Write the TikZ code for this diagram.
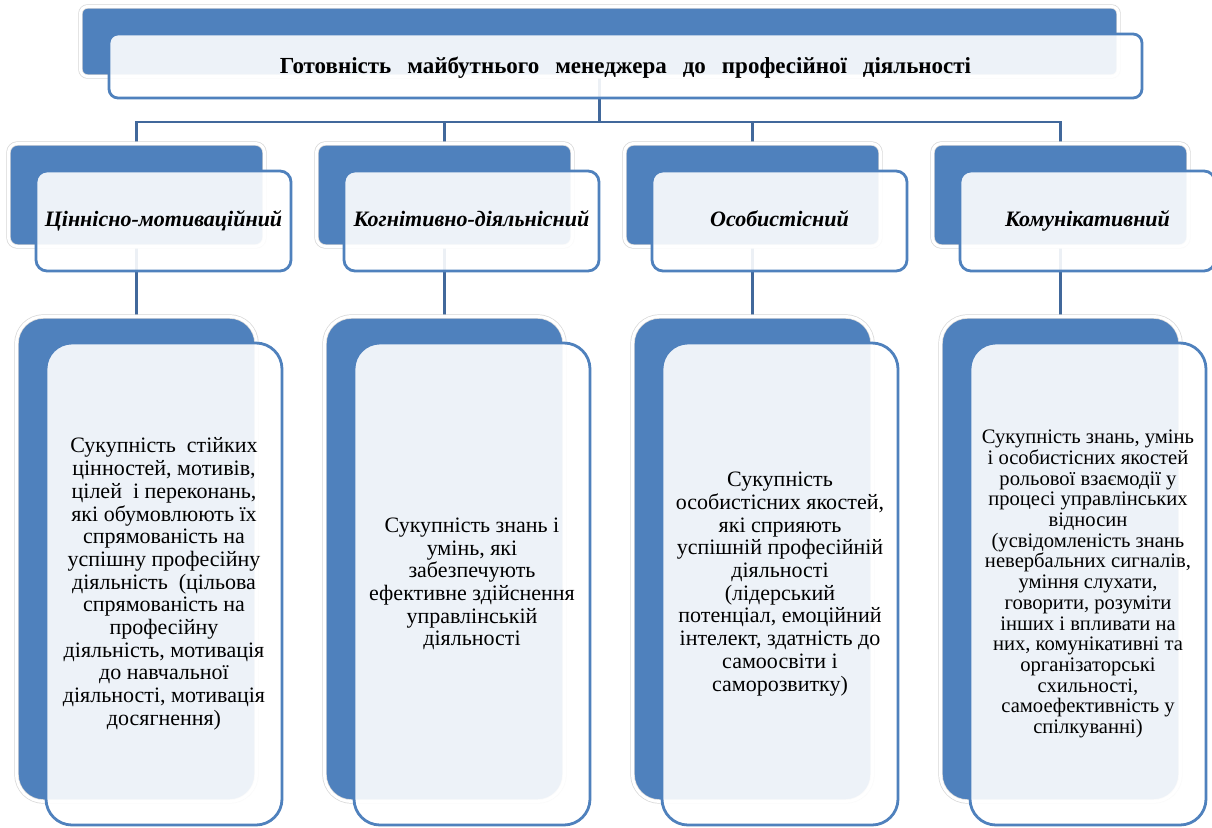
\documentclass[tikz,border=0pt]{standalone}
\usepackage{fontspec}
\setmainfont{LiberationSerif}[Extension=.ttf, UprightFont=*-Regular, BoldFont=*-Bold, ItalicFont=*-Italic, BoldItalicFont=*-BoldItalic]
\definecolor{accent}{RGB}{79,129,189}
\definecolor{conn}{RGB}{65,104,155}
\definecolor{halo}{RGB}{215,215,215}
\newcommand{\wgap}{\hspace{16pt}}
\begin{document}
\begin{tikzpicture}[x=1pt,y=-1pt,
  backbox/.style={draw=halo, line width=0.7pt, double=white, double distance=3pt, fill=accent, inner sep=0pt},
  frontbox/.style={draw=accent, line width=2.8pt, fill=white, fill opacity=0.9, text opacity=1, draw opacity=1, inner sep=0pt, align=center, text=black},
  hdrfont/.style={font=\fontsize{23}{26}\selectfont\bfseries, text height=18pt, text depth=4pt},
  catfont/.style={font=\fontsize{22}{25}\selectfont\bfseries\itshape, text height=16pt, text depth=5pt},
  descbig/.style={font=\fontsize{22}{22.7}\selectfont},
  descsmall/.style={font=\fontsize{20.6}{20.7}\selectfont},
  connector/.style={draw=conn, line width=2.7pt}
]
\useasboundingbox (0,0) rectangle (1212,827);
\fill[white] (0,0) rectangle (1212,827);

\coordinate (bar) at (0,122);

\path
  (599.5,41.5) node[minimum width=1038pt, minimum height=70pt] (hb) {}
  (136.5,195) node[minimum width=256pt, minimum height=103pt] (cb1) {}
  (444.5,195) node[minimum width=256pt, minimum height=103pt] (cb2) {}
  (752.5,195) node[minimum width=256pt, minimum height=103pt] (cb3) {}
  (1060.5,195) node[minimum width=256pt, minimum height=103pt] (cb4) {}
  (136.5,559) node[minimum width=240pt, minimum height=485pt] (db1) {}
  (444.5,559) node[minimum width=240pt, minimum height=485pt] (db2) {}
  (752.5,559) node[minimum width=240pt, minimum height=485pt] (db3) {}
  (1060.5,559) node[minimum width=240pt, minimum height=485pt] (db4) {};

% connectors
\draw[connector] (hb.center) -- (hb.center |- bar);
\draw[connector, line cap=rect] (cb1.north |- bar) -- (cb4.north |- bar);
\foreach \i in {1,2,3,4}{
  \draw[connector] (cb\i.north |- bar) -- (cb\i.center);
  \draw[connector] (cb\i.center) -- (db\i.center);
}

% back boxes
\node[backbox, rounded corners=7pt, minimum width=1038pt, minimum height=70pt] at (hb) {};
\foreach \i in {1,2,3,4}{
  \node[backbox, rounded corners=9pt, minimum width=256pt, minimum height=103pt] at (cb\i) {};
  \node[backbox, rounded corners=27pt, minimum width=240pt, minimum height=485pt] at (db\i) {};
}

% front boxes
\node[frontbox, hdrfont, rounded corners=9pt, minimum width=1033pt, minimum height=64pt] (hf) at (625.5,66)
  {Готовність\wgap майбутнього\wgap менеджера\wgap до\wgap професійної\wgap діяльності};

\node[frontbox, catfont, rounded corners=11pt, minimum width=255pt, minimum height=100pt] (cf1) at (163.5,221) {Ціннісно-мотиваційний};
\node[frontbox, catfont, rounded corners=11pt, minimum width=255pt, minimum height=100pt] (cf2) at (471.5,221) {Когнітивно-діяльнісний};
\node[frontbox, catfont, rounded corners=11pt, minimum width=255pt, minimum height=100pt] (cf3) at (779.5,221) {Особистісний};
\node[frontbox, catfont, rounded corners=11pt, minimum width=255pt, minimum height=100pt] (cf4) at (1087.5,221) {Комунікативний};

\node[frontbox, descbig, rounded corners=26pt, minimum width=236pt, minimum height=482pt] (df1) at (164,584)
  {Сукупність\ \ стійких\\цінностей, мотивів,\\цілей\ \ і переконань,\\які обумовлюють їх\\спрямованість на\\успішну професійну\\діяльність\ \ (цільова\\спрямованість на\\професійну\\діяльність, мотивація\\до навчальної\\діяльності, мотивація\\досягнення)};
\node[frontbox, descbig, rounded corners=26pt, minimum width=236pt, minimum height=482pt] (df2) at (472,584)
  {Сукупність знань і\\умінь, які\\забезпечують\\ефективне здійснення\\управлінській\\діяльності};
\node[frontbox, descbig, rounded corners=26pt, minimum width=236pt, minimum height=482pt] (df3) at (780,584)
  {Сукупність\\особистісних якостей,\\які сприяють\\успішній професійній\\діяльності\\(лідерський\\потенціал, емоційний\\інтелект, здатність до\\самоосвіти і\\саморозвитку)};
\node[frontbox, descsmall, rounded corners=26pt, minimum width=236pt, minimum height=482pt] (df4) at (1088,584)
  {Сукупність знань, умінь\\і особистісних якостей\\рольової взаємодії у\\процесі управлінських\\відносин\\(усвідомленість знань\\невербальних сигналів,\\уміння слухати,\\говорити, розуміти\\інших і впливати на\\них, комунікативні та\\організаторські\\схильності,\\самоефективність у\\спілкуванні)};
\end{tikzpicture}
\end{document}
